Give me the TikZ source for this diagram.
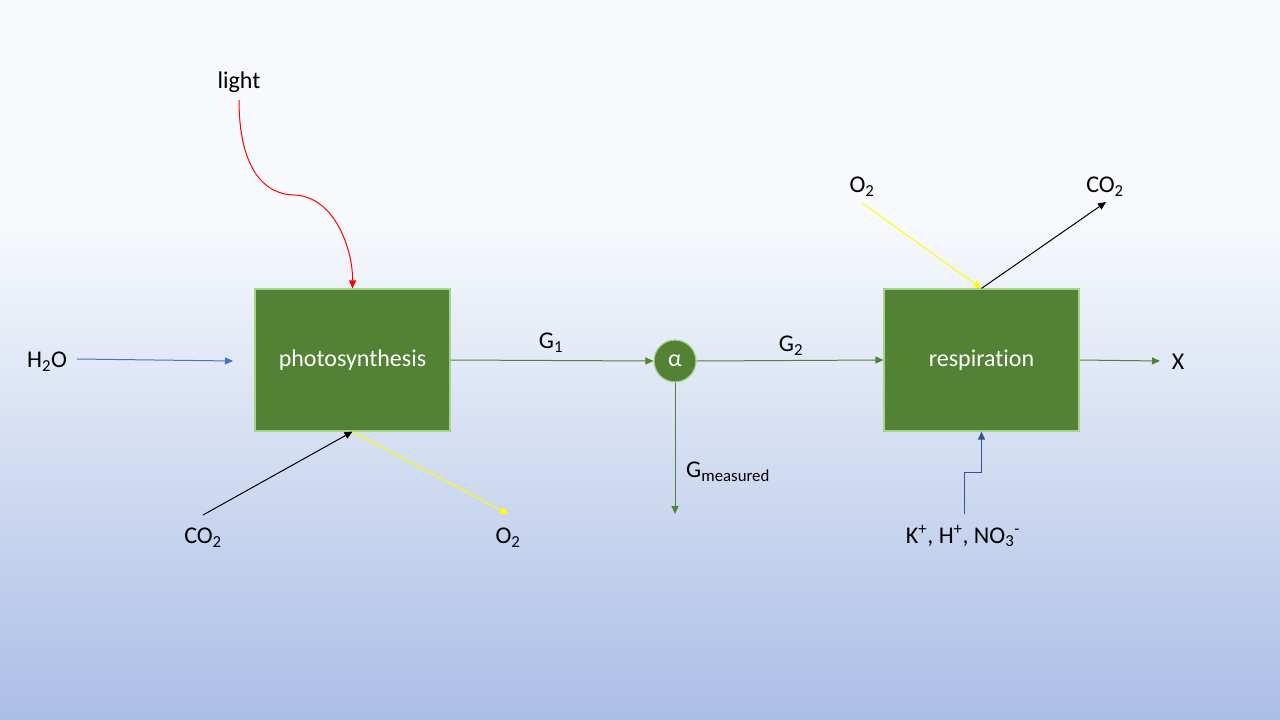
\documentclass[tikz,border=0pt]{standalone}
\usepackage{fontspec}
\setmainfont{Carlito}[Ligatures={NoCommon}]
\usetikzlibrary{arrows.meta}
\definecolor{bgtop}{RGB}{247,249,252}
\definecolor{bgbot}{RGB}{171,190,230}
\definecolor{boxgreen}{RGB}{84,130,53}
\definecolor{boxedge}{RGB}{169,209,142}
\definecolor{h2oblue}{RGB}{68,114,196}
\definecolor{ionblue}{RGB}{47,85,151}
\definecolor{lightred}{RGB}{255,0,0}
\definecolor{oxyellow}{RGB}{255,255,0}
\begin{document}
\begin{tikzpicture}[x=1pt,y=1pt,
  every node/.style={font=\fontsize{24}{28}\selectfont, inner sep=0pt},
  procbox/.style={draw=boxedge, line width=1.2pt, fill=boxgreen, minimum width=195pt, minimum height=142pt, text=white},
  alphanode/.style={circle, draw=boxedge, line width=1.2pt, fill=boxgreen, minimum size=42pt, text=white},
  lbl/.style={text=black, yshift=-2pt},
  flow/.style={line width=1pt, -{Triangle[length=8pt,width=7pt]}}
]
\useasboundingbox (0,-720) rectangle (1280,0);
\fill[bgtop] (0,0) rectangle (1280,-220);
\shade[top color=bgtop, bottom color=bgbot] (0,-220) rectangle (1280,-720);

% process nodes
\node[procbox] (photo) at (352.5,-360) {\raisebox{-2pt}{photosynthesis}};
\node[procbox] (resp) at (981.5,-360) {\raisebox{-2pt}{respiration}};
\node[alphanode] (alpha) at (675,-361) {α};

% labels
\node[lbl] (light) at (239,-80) {light};
\node[lbl] (h2o) at (47,-360) {H\textsubscript{2}O};
\node[lbl] (co2a) at (203,-536) {CO\textsubscript{2}};
\node[lbl] (o2a) at (508,-536) {O\textsubscript{2}};
\node[lbl] (g1) at (551,-341) {G\textsubscript{1}};
\node[lbl] (g2) at (791,-344) {G\textsubscript{2}};
\node[lbl, anchor=west] (gm) at (686,-470) {G\textsubscript{measured}};
\node[lbl] (o2b) at (862,-185) {O\textsubscript{2}};
\node[lbl] (co2b) at (1105,-185) {CO\textsubscript{2}};
\node[lbl] (ions) at (963,-534) {K\textsuperscript{+}, H\textsuperscript{+}, NO\textsubscript{3}\textsuperscript{-}};
\node[lbl] (x) at (1178,-360) {X};

% free ends
\coordinate (lightS) at (239,-100);
\coordinate (h2oS) at (77,-359);
\coordinate (h2oE) at (233,-361);
\coordinate (co2aS) at (203,-515);
\coordinate (o2aE) at (508,-514);
\coordinate (gmE) at (675,-514);
\coordinate (o2bS) at (862,-203);
\coordinate (co2bE) at (1106,-202);
\coordinate (ionS) at (964,-514);
\coordinate (xE) at (1160,-361);

% connectors
\draw[flow, draw=lightred, -{Triangle[length=8pt,width=7pt,fill=lightred]}]
  (lightS) .. controls (239,-165) and (262,-195) .. (295,-195)
  .. controls (335,-197) and (353,-250) .. (photo.north);
\draw[flow, h2oblue] (h2oS) -- (h2oE);
\draw[flow, black] (co2aS) -- (photo.south);
\draw[flow, oxyellow] (photo.south) -- (o2aE);
\draw[flow, boxgreen] (photo.east) -- (alpha.west);
\draw[flow, boxgreen] (alpha.east) -- (resp.west);
\draw[flow, boxgreen] (alpha.south) -- (gmE);
\draw[flow, oxyellow] (o2bS) -- (resp.north);
\draw[flow, black] (resp.north) -- (co2bE);
\draw[flow, ionblue] (ionS) -- (964,-472) -- (981.5,-472) -- (resp.south);
\draw[flow, boxgreen] (resp.east) -- (xE);
\end{tikzpicture}
\end{document}
